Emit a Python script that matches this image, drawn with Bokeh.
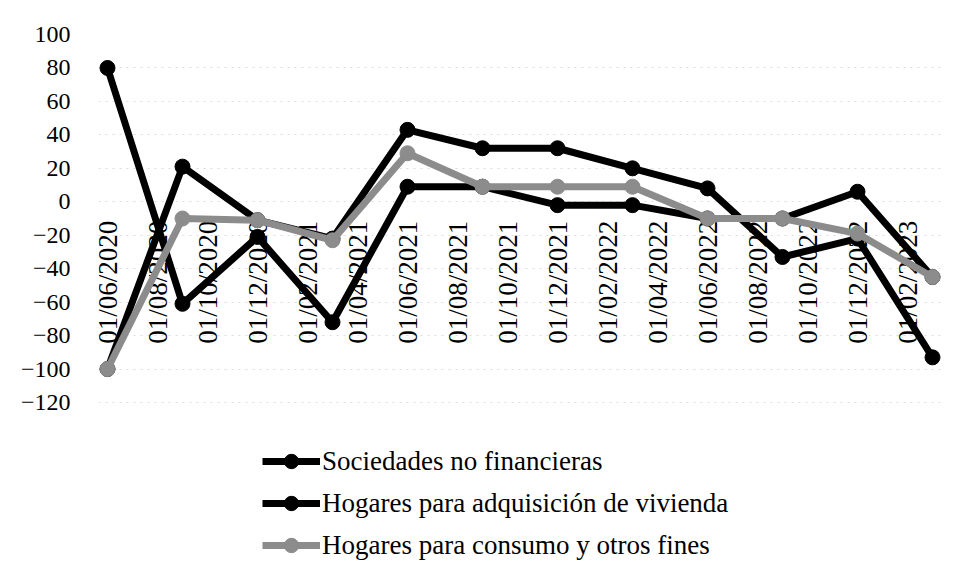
import math
from bokeh.plotting import figure
from bokeh.models import FixedTicker, Legend, LegendItem, Range1d, ColumnDataSource
from bokeh.core.properties import value
from bokeh.embed import file_html
from bokeh.resources import INLINE

# ---- data ----
dates = ["01/06/2020", "01/09/2020", "01/12/2020", "01/03/2021", "01/06/2021", "01/09/2021",
         "01/12/2021", "01/03/2022", "01/06/2022", "01/09/2022", "01/12/2022", "01/03/2023"]
sociedades = [80, -61, -21, -72, 9, 9, -2, -2, -10, -10, 6, -45]
vivienda = [-100, 21, -11, -22, 43, 32, 32, 20, 8, -33, -22, -93]
consumo = [-100, -10, -11, -23, 29, 9, 9, 9, -10, -10, -19, -45]
tick_labels = ["01/06/2020", "01/08/2020", "01/10/2020", "01/12/2020", "01/02/2021", "01/04/2021",
               "01/06/2021", "01/08/2021", "01/10/2021", "01/12/2021", "01/02/2022", "01/04/2022",
               "01/06/2022", "01/08/2022", "01/10/2022", "01/12/2022", "01/02/2023"]
y_ticks = [-120, -100, -80, -60, -40, -20, 0, 20, 40, 60, 80, 100]
names = ["Sociedades no financieras", "Hogares para adquisición de vivienda",
         "Hogares para consumo y otros fines"]


def month_index(s):
    d, m, y = (int(v) for v in s.split("/"))
    return (y - 2020) * 12 + (m - 6)


x = [month_index(s) for s in dates]
tick_pos = [month_index(s) for s in tick_labels]

FONT = "'Liberation Serif', 'DejaVu Serif', serif"

# the plot frame runs down to the bottom of the picture so that the legend,
# which sits below the -120 line, stays inside it (no ticks below -120)
p = figure(width=957, height=586, output_backend="svg", toolbar_location=None,
           x_range=Range1d(-0.36, 33.52), y_range=Range1d(-226.4, 100),
           min_border_left=98, min_border_right=12, min_border_top=34, min_border_bottom=6)
p.outline_line_color = None
p.background_fill_color = "white"
p.border_fill_color = "white"

# y axis
p.yaxis.ticker = FixedTicker(ticks=y_ticks)
p.yaxis.axis_line_color = None
p.yaxis.major_tick_line_color = None
p.yaxis.minor_tick_line_color = None
p.yaxis.major_label_text_font = FONT
p.yaxis.major_label_text_font_size = "24px"
p.yaxis.major_label_text_color = "black"
p.yaxis.major_label_standoff = 22

# x axis: category labels hang below the zero line (drawn as text glyphs at y=0)
p.xaxis.visible = False
p.xgrid.grid_line_color = None
p.ygrid.ticker = FixedTicker(ticks=y_ticks)
p.ygrid.grid_line_color = "#dcdcdc"
p.ygrid.grid_line_dash = "2 5"
p.ygrid.grid_line_width = 1

lab_src = ColumnDataSource(dict(x=tick_pos, y=[0] * len(tick_pos), text=tick_labels))
p.text(x="x", y="y", text="text", source=lab_src, angle=math.pi / 2,
       text_align="right", text_baseline="middle", x_offset=0, y_offset=19,
       text_font=value(FONT), text_font_size="27px", text_color="black")

colors = ["#000000", "#000000", "#8c8c8c"]
series = [sociedades, vivienda, consumo]
items = []
for name, vals, col in zip(names, series, colors):
    ln = p.line(x, vals, line_color=col, line_width=7)
    sc = p.scatter(x, vals, size=15, fill_color=col, line_color=col)
    items.append(LegendItem(label=name, renderers=[ln, sc]))

legend = Legend(items=items, location=(164, 17), orientation="vertical",
                label_text_font=FONT, label_text_font_size="27px", label_text_color="black",
                glyph_width=58, glyph_height=36, spacing=6, label_standoff=2,
                padding=0, margin=0, border_line_color=None, background_fill_alpha=0)
p.add_layout(legend, "center")

open("out.html", "w").write(file_html(p, INLINE))
